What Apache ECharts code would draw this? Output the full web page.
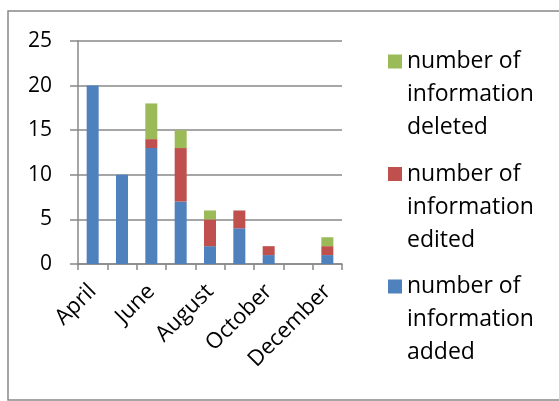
<!DOCTYPE html>
<html>
<head>
<meta charset="utf-8">
<script src="https://cdn.jsdelivr.net/npm/echarts@6/dist/echarts.min.js"></script>
<style>
  html, body { margin: 0; padding: 0; background: #fff; }
  #chart { width: 559px; height: 401px; }
</style>
</head>
<body>
<div id="chart"></div>
<script>
const months = ["April", "May", "June", "July", "August", "September", "October", "November", "December"];
const added = [20, 10, 13, 7, 2, 4, 1, 0, 1];
const edited = [0, 0, 1, 6, 3, 2, 1, 0, 1];
const deleted = [0, 0, 4, 2, 1, 0, 0, 0, 1];
const yTicks = { min: 0, max: 25, step: 5 };

const font = "Open Sans";
const grey = "#888888";

// legend text is pushed down two blank lines so the square sits on the first line
const wrapName = (name) => "\n\n" + name.replace("number of ", "number of\n").replace("information ", "information\n");

const bar = (name, data, color) => ({
  name: name,
  type: "bar",
  stack: "total",
  barWidth: 12,
  data: data,
  itemStyle: { color: color },
});

const chart = echarts.init(document.getElementById("chart"));
chart.setOption({
  animation: false,
  graphic: [
    {
      type: "polyline",
      shape: { points: [[620, 11], [8, 11], [8, 400], [620, 400]] },
      style: { fill: null, stroke: grey, lineWidth: 1.5 },
    },
  ],
  grid: { left: 78, right: 217, top: 41, bottom: 137 },
  legend: {
    orient: "vertical",
    left: 388,
    top: -21,
    padding: 0,
    itemGap: -52.5,
    itemWidth: 14,
    itemHeight: 14,
    icon: "rect",
    data: ["number of information deleted", "number of information edited", "number of information added"],
    formatter: wrapName,
    textStyle: { fontFamily: font, fontSize: 23, lineHeight: 33, color: "#000" },
  },
  xAxis: {
    type: "category",
    data: months,
    axisLine: { lineStyle: { color: grey, width: 1.5 } },
    axisTick: { show: true, interval: 0, length: 6, lineStyle: { color: grey, width: 1.5 } },
    axisLabel: {
      interval: 1,
      rotate: 45,
      margin: 24,
      fontFamily: font,
      fontSize: 22,
      color: "#000",
    },
  },
  yAxis: {
    type: "value",
    min: yTicks.min,
    max: yTicks.max,
    interval: yTicks.step,
    axisLine: { show: true, lineStyle: { color: grey, width: 1.5 } },
    axisTick: { show: true, length: 8, lineStyle: { color: grey, width: 1.5 } },
    splitLine: { lineStyle: { color: grey, width: 1.5 } },
    axisLabel: { margin: 26, fontFamily: font, fontSize: 21, color: "#000" },
  },
  series: [
    bar("number of information added", added, "#4F81BD"),
    bar("number of information edited", edited, "#C0504D"),
    bar("number of information deleted", deleted, "#9BBB59"),
  ],
});
</script>
</body>
</html>
